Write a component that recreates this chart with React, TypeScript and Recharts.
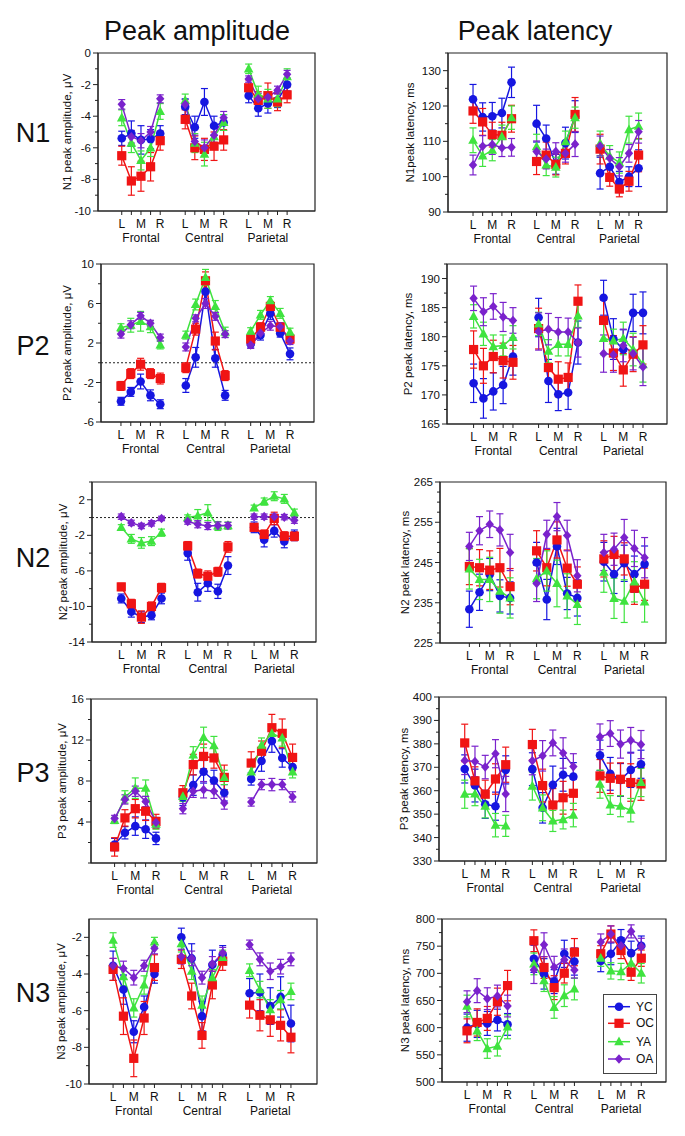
import React from 'react';
import { ComposedChart, Line, XAxis, YAxis, ErrorBar, ReferenceArea, ReferenceLine } from 'recharts';

const groups = ['Frontal', 'Central', 'Parietal'];
const siteLabels = ['L', '', 'M', '', 'R'];
const seriesNames = ['YC', 'OC', 'YA', 'OA'];
const seriesColors = ['#1616e0', '#f01414', '#3fe33f', '#7a22cc'];

// electrodes sit one unit apart, groups are separated by a wider gap
const GROUP_GAP = 6.6;
const xPositions = groups.flatMap((_, g) => siteLabels.map((_, e) => g * GROUP_GAP + e));

// ---- N1 amplitude (µV)
const n1AmpYC = [-5.4, -5.1, -5.5, -5.45, -5.1, -3.4, -4.7, -3.1, -4.6, -4.4, -2.7, -3.5, -3.2, -3.0, -2.0];
const n1AmpOC = [-6.5, -8.1, -7.8, -7.2, -5.55, -4.2, -6.0, -6.1, -5.9, -5.5, -2.2, -3.0, -2.7, -3.1, -2.65];
const n1AmpYA = [-4.1, -5.7, -6.8, -6.0, -3.7, -3.0, -5.7, -6.4, -5.3, -4.4, -1.0, -2.6, -2.9, -2.9, -1.5];
const n1AmpOA = [-3.25, -5.3, -5.55, -5.0, -2.9, -3.25, -5.6, -6.0, -5.2, -4.1, -1.65, -2.9, -2.8, -2.35, -1.35];
const n1AmpYCErr = [0.45, 0.8, 0.9, 0.6, 0.5, 0.5, 0.7, 0.85, 0.6, 0.5, 0.45, 0.5, 0.6, 0.45, 0.4];
const n1AmpOCErr = [0.6, 0.9, 0.95, 0.9, 0.6, 0.6, 0.75, 0.7, 0.9, 0.65, 0.5, 0.55, 0.8, 0.55, 0.5];
const n1AmpYAErr = [0.5, 0.6, 0.6, 0.55, 0.5, 0.4, 0.6, 0.75, 0.6, 0.5, 0.3, 0.5, 0.6, 0.5, 0.5];
const n1AmpOAErr = [0.3, 0.4, 0.45, 0.35, 0.25, 0.3, 0.4, 0.5, 0.45, 0.4, 0.2, 0.35, 0.3, 0.25, 0.25];

// ---- N1 latency (ms)
const n1LatYC = [121.9, 116.9, 117.1, 118.0, 126.7, 115.0, 110.8, 103.5, 109.5, 117.0, 101.0, 102.8, 98.5, 100.0, 102.4];
const n1LatOC = [118.6, 115.5, 111.9, 111.7, 116.4, 104.3, 106.1, 103.5, 106.6, 117.6, 107.8, 99.8, 96.5, 98.7, 106.1];
const n1LatYA = [110.3, 105.9, 107.5, 111.3, 116.7, 108.5, 103.3, 102.7, 109.9, 116.7, 109.4, 105.8, 104.0, 113.3, 114.3];
const n1LatOA = [103.3, 108.6, 109.1, 108.2, 108.3, 107.1, 105.0, 107.1, 106.6, 109.2, 108.7, 105.2, 102.8, 106.6, 112.7];
const n1LatYCErr = [4.2, 4.0, 3.9, 4.2, 4.3, 5.2, 3.8, 2.8, 4.5, 4.5, 4.5, 2.5, 3.0, 2.8, 5.2];
const n1LatOCErr = [3.5, 3.8, 3.5, 3.7, 3.8, 3.7, 3.7, 3.0, 3.0, 4.8, 4.2, 2.5, 2.2, 2.8, 4.7];
const n1LatYAErr = [3.5, 3.0, 3.0, 3.3, 3.3, 3.5, 3.0, 2.8, 3.0, 3.0, 3.5, 3.0, 3.0, 3.8, 3.7];
const n1LatOAErr = [2.8, 3.0, 2.8, 2.5, 2.5, 3.0, 2.8, 2.5, 2.5, 3.5, 2.8, 2.5, 2.6, 2.5, 3.2];

// ---- P2 amplitude (µV)
const p2AmpYC = [-3.9, -2.95, -1.9, -3.3, -4.2, -2.3, 0.55, 7.2, 0.45, -3.3, 1.9, 2.8, 5.0, 3.0, 0.9];
const p2AmpOC = [-2.35, -1.1, -0.15, -1.1, -1.6, -0.5, 3.4, 8.3, 2.2, -1.3, 2.4, 3.6, 5.7, 3.6, 2.4];
const p2AmpYA = [3.55, 3.8, 4.2, 3.65, 1.8, 2.8, 5.9, 8.65, 5.7, 3.1, 3.2, 4.85, 6.3, 5.0, 3.1];
const p2AmpOA = [2.9, 3.85, 4.75, 4.0, 2.55, 1.6, 4.5, 6.0, 4.7, 2.9, 1.8, 3.0, 3.75, 3.65, 2.2];
const p2AmpYCErr = [0.4, 0.45, 0.75, 0.55, 0.45, 0.7, 1.0, 1.2, 0.9, 0.5, 0.4, 0.5, 0.6, 0.4, 0.6];
const p2AmpOCErr = [0.45, 0.5, 0.6, 0.5, 0.55, 0.5, 0.6, 0.9, 0.9, 0.5, 0.4, 0.45, 0.5, 0.45, 0.4];
const p2AmpYAErr = [0.4, 0.7, 1.0, 0.6, 0.4, 0.4, 0.55, 0.8, 0.6, 0.5, 0.35, 0.45, 0.4, 0.5, 0.4];
const p2AmpOAErr = [0.4, 0.4, 0.35, 0.3, 0.35, 0.4, 0.35, 0.5, 0.4, 0.35, 0.35, 0.4, 0.45, 0.4, 0.35];

// ---- P2 latency (ms)
const p2LatYC = [172.0, 169.4, 170.6, 171.7, 176.6, 183.3, 172.4, 170.1, 170.4, 179.0, 186.7, 179.6, 177.8, 184.1, 184.1];
const p2LatOC = [177.8, 175.0, 176.6, 175.9, 175.6, 181.4, 174.7, 172.7, 173.0, 186.1, 182.8, 177.2, 174.3, 177.0, 178.6];
const p2LatYA = [183.5, 180.5, 178.3, 178.5, 179.9, 182.2, 177.5, 178.7, 178.7, 183.6, 179.7, 179.3, 179.7, 177.8, 175.2];
const p2LatOA = [186.6, 184.3, 185.2, 183.4, 182.8, 180.9, 181.3, 180.8, 180.8, 179.0, 177.1, 176.9, 178.5, 177.1, 174.8];
const p2LatYCErr = [3.3, 3.4, 3.2, 3.2, 3.2, 3.3, 3.7, 2.8, 2.9, 3.7, 3.0, 3.5, 3.4, 3.2, 3.6];
const p2LatOCErr = [3.2, 3.0, 2.8, 3.0, 2.9, 3.5, 2.5, 3.0, 2.5, 2.8, 3.5, 3.0, 2.8, 3.0, 3.3];
const p2LatYAErr = [2.0, 2.0, 2.0, 1.8, 2.0, 2.0, 2.0, 2.0, 2.0, 2.0, 2.8, 2.0, 2.8, 2.8, 3.0];
const p2LatOAErr = [2.1, 2.4, 2.2, 2.5, 2.2, 3.2, 2.7, 2.5, 2.4, 2.5, 3.2, 3.0, 2.8, 2.8, 3.2];

// ---- N2 amplitude (µV)
const n2AmpYC = [-9.1, -10.6, -11.2, -11.0, -9.1, -4.0, -8.4, -7.4, -8.3, -5.4, -1.1, -2.5, -1.5, -2.7, -2.0];
const n2AmpOC = [-7.8, -9.7, -11.2, -10.0, -7.9, -3.2, -6.3, -6.6, -6.1, -3.3, -1.1, -1.9, -0.1, -2.1, -2.1];
const n2AmpYA = [-1.1, -2.4, -2.85, -2.65, -1.7, 0.0, 0.2, 0.55, -0.95, -0.9, 1.1, 1.8, 2.4, 2.1, 0.55];
const n2AmpOA = [0.1, -0.6, -0.95, -0.65, -0.1, -0.45, -0.75, -0.95, -0.9, -0.9, 0.1, 0.1, 0.1, 0.05, -0.3];
const n2AmpYCErr = [0.5, 0.6, 0.6, 0.5, 0.6, 0.8, 1.0, 0.9, 0.8, 1.0, 0.6, 0.8, 0.7, 0.7, 0.6];
const n2AmpOCErr = [0.4, 0.5, 0.7, 0.5, 0.5, 0.5, 0.5, 0.6, 0.5, 0.6, 0.4, 0.5, 0.7, 0.5, 0.5];
const n2AmpYAErr = [0.3, 0.5, 0.6, 0.5, 0.4, 0.3, 0.7, 0.9, 0.5, 0.4, 0.3, 0.4, 0.5, 0.5, 0.4];
const n2AmpOAErr = [0.3, 0.3, 0.3, 0.3, 0.25, 0.3, 0.4, 0.4, 0.4, 0.35, 0.3, 0.3, 0.3, 0.3, 0.35];

// ---- N2 latency (ms)
const n2LatYC = [233.4, 237.6, 242.0, 236.7, 236.2, 245.0, 235.8, 249.0, 237.3, 236.2, 245.2, 242.1, 244.8, 242.1, 244.6];
const n2LatOC = [244.0, 243.7, 243.1, 243.7, 239.0, 247.9, 243.7, 250.6, 243.6, 239.6, 245.9, 247.0, 245.9, 238.6, 239.6];
const n2LatYA = [243.4, 240.8, 240.8, 237.9, 236.2, 241.0, 242.9, 239.8, 236.7, 234.6, 242.6, 236.1, 235.4, 240.2, 235.2];
const n2LatOA = [249.0, 252.9, 254.5, 253.1, 247.5, 239.8, 252.0, 256.4, 251.7, 241.7, 247.5, 248.3, 251.2, 248.5, 246.2];
const n2LatYCErr = [4.5, 4.5, 4.0, 4.0, 4.0, 5.0, 5.0, 4.5, 4.0, 4.5, 4.8, 4.8, 4.5, 4.5, 4.5];
const n2LatOCErr = [4.5, 4.5, 4.8, 4.8, 4.5, 5.0, 4.5, 4.5, 4.5, 4.3, 4.5, 4.5, 4.0, 4.0, 4.0];
const n2LatYAErr = [5.0, 5.0, 5.5, 5.5, 5.0, 5.0, 5.0, 5.8, 5.5, 5.0, 5.0, 5.0, 5.3, 5.0, 5.0];
const n2LatOAErr = [3.5, 3.5, 3.3, 4.0, 4.5, 4.5, 3.5, 3.5, 3.8, 4.0, 4.5, 4.0, 4.5, 4.5, 5.0];

// ---- P3 amplitude (µV)
const p3AmpYC = [1.8, 2.95, 3.6, 3.3, 2.4, 6.4, 7.6, 8.9, 8.05, 6.85, 8.2, 9.95, 11.9, 10.25, 9.35];
const p3AmpOC = [1.57, 4.4, 5.3, 5.05, 4.05, 6.85, 9.6, 10.4, 10.25, 8.35, 9.75, 10.9, 13.2, 12.65, 10.3];
const p3AmpYA = [4.15, 6.45, 7.3, 7.3, 3.8, 6.5, 10.55, 12.25, 11.45, 8.35, 8.9, 11.5, 12.65, 12.2, 8.9];
const p3AmpOA = [4.35, 6.2, 7.0, 6.0, 3.95, 5.3, 7.0, 7.15, 7.0, 5.85, 5.95, 7.65, 7.65, 7.65, 6.45];
const p3AmpYCErr = [0.6, 0.6, 0.9, 0.9, 0.6, 0.8, 1.0, 1.1, 1.0, 0.8, 0.6, 1.0, 1.1, 0.9, 0.7];
const p3AmpOCErr = [0.9, 0.8, 0.9, 0.9, 0.7, 0.7, 1.0, 1.2, 1.0, 1.2, 1.1, 1.0, 1.3, 1.4, 1.3];
const p3AmpYAErr = [0.3, 0.6, 1.0, 0.8, 0.5, 0.5, 0.8, 1.0, 0.9, 0.7, 0.5, 0.7, 0.8, 0.8, 0.6];
const p3AmpOAErr = [0.3, 0.45, 0.5, 0.5, 0.5, 0.5, 0.6, 0.8, 0.7, 0.6, 0.4, 0.5, 0.6, 0.5, 0.5];

// ---- P3 latency (ms)
const p3LatYC = [369.3, 362.2, 354.2, 353.4, 368.9, 369.2, 352.7, 362.5, 366.8, 366.0, 375.1, 367.2, 364.6, 368.9, 371.3];
const p3LatOC = [380.4, 364.2, 358.5, 365.0, 371.1, 379.7, 362.2, 353.9, 357.0, 358.9, 366.3, 365.3, 364.9, 363.5, 362.9];
const p3LatYA = [358.5, 358.6, 353.4, 345.3, 345.0, 362.0, 352.7, 347.1, 347.7, 349.6, 362.8, 353.9, 353.4, 351.7, 363.5];
const p3LatOA = [372.9, 372.5, 370.1, 375.8, 358.6, 372.8, 374.9, 380.4, 376.1, 370.3, 383.0, 384.4, 379.9, 381.5, 379.7];
const p3LatYCErr = [6, 7, 6, 6, 6, 7, 6.5, 8, 7, 6, 6.5, 7, 7, 7.5, 6];
const p3LatOCErr = [8, 6, 6, 6.5, 7.5, 6.5, 7, 7, 7, 7, 7, 6.5, 7, 8, 7];
const p3LatYAErr = [6, 5, 5, 5, 4.5, 6, 5.5, 4.5, 4, 5, 6, 4, 4.5, 5, 6];
const p3LatOAErr = [6, 6.5, 5, 6, 7.5, 6, 6.5, 5.5, 6.5, 5.5, 5.5, 5.5, 6, 5.5, 6];

// ---- N3 amplitude (µV)
const n3AmpYC = [-3.55, -4.85, -7.15, -5.8, -4.0, -2.0, -3.15, -6.3, -3.5, -2.95, -5.05, -5.0, -5.75, -5.25, -6.7];
const n3AmpOC = [-3.75, -6.3, -8.6, -6.4, -3.65, -3.2, -5.2, -7.35, -4.6, -3.3, -5.7, -6.25, -6.5, -6.8, -7.45];
const n3AmpYA = [-2.15, -4.15, -5.85, -4.6, -2.25, -2.35, -3.85, -5.7, -4.2, -3.1, -3.8, -4.85, -5.95, -5.4, -4.95];
const n3AmpOA = [-3.55, -3.7, -4.2, -3.55, -2.6, -3.05, -3.15, -4.2, -3.45, -2.85, -2.4, -3.2, -3.85, -3.6, -3.2];
const n3AmpYCErr = [0.8, 0.8, 0.6, 0.6, 0.5, 0.5, 0.8, 0.8, 0.8, 0.5, 0.8, 1.0, 1.0, 1.1, 1.0];
const n3AmpOCErr = [0.6, 1.0, 1.0, 0.9, 0.7, 0.5, 0.7, 0.7, 0.75, 0.5, 0.7, 0.85, 0.9, 0.85, 0.85];
const n3AmpYAErr = [0.4, 0.5, 0.5, 0.5, 0.25, 0.45, 0.45, 0.5, 0.45, 0.4, 0.35, 0.45, 0.55, 0.5, 0.45];
const n3AmpOAErr = [0.4, 0.4, 0.4, 0.3, 0.3, 0.4, 0.4, 0.35, 0.4, 0.3, 0.25, 0.35, 0.45, 0.4, 0.35];

// ---- N3 latency (ms)
const n3LatYC = [600, 607, 607.8, 614, 606, 726.7, 699, 684.8, 735.9, 721.7, 723, 735.9, 760.6, 737.2, 750.7];
const n3LatOC = [594.2, 609.6, 617, 647.8, 677.4, 760, 710.7, 673.7, 700.2, 739, 735.9, 772.3, 742.1, 702, 727.9];
const n3LatYA = [639.8, 594.2, 561.6, 565.9, 601.6, 717.4, 686.6, 637.3, 658.9, 671.2, 727.9, 704.5, 703.3, 718.7, 700.2];
const n3LatOA = [647.8, 668.1, 653.4, 658.3, 639.8, 706.3, 752.6, 711.3, 724.8, 706.3, 757.5, 772.3, 750.7, 777.2, 749.5];
const n3LatYCErr = [25, 25, 22, 20, 20, 25, 28, 22, 25, 25, 20, 20, 20, 22, 18];
const n3LatOCErr = [22, 25, 22, 25, 28, 20, 20, 22, 18, 25, 15, 15, 15, 15, 15];
const n3LatYAErr = [20, 18, 18, 18, 22, 20, 20, 20, 20, 20, 15, 15, 15, 15, 18];
const n3LatOAErr = [20, 22, 20, 20, 20, 25, 22, 20, 20, 15, 15, 15, 15, 12, 15];

type PanelSpec = {
  box: [number, number, number, number];
  xDomain: [number, number];
  yDomain: [number, number];
  major: number[];
  minor: number[];
  zeroLine?: boolean;
  title: string;
  titleX: number;
  series: number[][];
  errs: number[][];
};

const panels: PanelSpec[] = [
  {
    box: [98, 53, 315, 211], xDomain: [-2.47, 20.1], yDomain: [-10, 0],
    major: [-10, -8, -6, -4, -2, 0], minor: [-9, -7, -5, -3, -1],
    title: 'N1 peak amplitude, μV', titleX: 67,
    series: [n1AmpYC, n1AmpOC, n1AmpYA, n1AmpOA], errs: [n1AmpYCErr, n1AmpOCErr, n1AmpYAErr, n1AmpOAErr],
  },
  {
    box: [448, 53, 667, 212], xDomain: [-2.6, 20.15], yDomain: [90, 135],
    major: [90, 100, 110, 120, 130], minor: [95, 105, 115, 125, 135],
    title: 'N1peak latency, ms', titleX: 410,
    series: [n1LatYC, n1LatOC, n1LatYA, n1LatOA], errs: [n1LatYCErr, n1LatOCErr, n1LatYAErr, n1LatOAErr],
  },
  {
    box: [101, 264, 314, 422], xDomain: [-2.03, 19.64], yDomain: [-6, 10],
    major: [-6, -2, 2, 6, 10], minor: [-4, 0, 4, 8], zeroLine: true,
    title: 'P2 peak amplitude, μV', titleX: 67,
    series: [p2AmpYC, p2AmpOC, p2AmpYA, p2AmpOA], errs: [p2AmpYCErr, p2AmpOCErr, p2AmpYAErr, p2AmpOAErr],
  },
  {
    box: [447, 264, 667, 424], xDomain: [-2.7, 19.64], yDomain: [165, 192.5],
    major: [165, 170, 175, 180, 185, 190], minor: [167.5, 172.5, 177.5, 182.5, 187.5, 192.5],
    title: 'P2 peak latency, ms', titleX: 408,
    series: [p2LatYC, p2LatOC, p2LatYA, p2LatOA], errs: [p2LatYCErr, p2LatOCErr, p2LatYAErr, p2LatOAErr],
  },
  {
    box: [92, 482, 316, 642], xDomain: [-2.91, 19.35], yDomain: [-14, 4],
    major: [-14, -10, -6, -2, 2], minor: [-12, -8, -4, 0, 4], zeroLine: true,
    title: 'N2 peak amplitude, μV', titleX: 63,
    series: [n2AmpYC, n2AmpOC, n2AmpYA, n2AmpOA], errs: [n2AmpYCErr, n2AmpOCErr, n2AmpYAErr, n2AmpOAErr],
  },
  {
    box: [440, 482, 666, 643], xDomain: [-2.88, 19.3], yDomain: [225, 265],
    major: [225, 235, 245, 255, 265],
    minor: [227.5, 230, 232.5, 237.5, 240, 242.5, 247.5, 250, 252.5, 257.5, 260, 262.5],
    title: 'N2 peak latency, ms', titleX: 405,
    series: [n2LatYC, n2LatOC, n2LatYA, n2LatOA], errs: [n2LatYCErr, n2LatOCErr, n2LatYAErr, n2LatOAErr],
  },
  {
    box: [91, 699, 317, 863], xDomain: [-2.28, 19.56], yDomain: [0, 16],
    major: [4, 8, 12, 16], minor: [0, 2, 6, 10, 14],
    title: 'P3 peak amplitude, μV', titleX: 62,
    series: [p3AmpYC, p3AmpOC, p3AmpYA, p3AmpOA], errs: [p3AmpYCErr, p3AmpOCErr, p3AmpYAErr, p3AmpOAErr],
  },
  {
    box: [439, 697, 666, 861], xDomain: [-2.51, 19.64], yDomain: [330, 400],
    major: [330, 340, 350, 360, 370, 380, 390, 400], minor: [335, 345, 355, 365, 375, 385, 395],
    title: 'P3 peak latency, ms', titleX: 404,
    series: [p3LatYC, p3LatOC, p3LatYA, p3LatOA], errs: [p3LatYCErr, p3LatOCErr, p3LatYAErr, p3LatOAErr],
  },
  {
    box: [89, 919, 317, 1084], xDomain: [-2.33, 19.72], yDomain: [-10, -1],
    major: [-10, -8, -6, -4, -2], minor: [-9, -7, -5, -3],
    title: 'N3 peak amplitude, μV', titleX: 61,
    series: [n3AmpYC, n3AmpOC, n3AmpYA, n3AmpOA], errs: [n3AmpYCErr, n3AmpOCErr, n3AmpYAErr, n3AmpOAErr],
  },
  {
    box: [442, 919, 666, 1082], xDomain: [-2.47, 19.64], yDomain: [500, 800],
    major: [500, 550, 600, 650, 700, 750, 800], minor: [525, 575, 625, 675, 725, 775],
    title: 'N3 peak latency, ms', titleX: 405,
    series: [n3LatYC, n3LatOC, n3LatYA, n3LatOA], errs: [n3LatYCErr, n3LatOCErr, n3LatYAErr, n3LatOAErr],
  },
];

const rowLabels = ['N1', 'P2', 'N2', 'P3', 'N3'];
const rowLabelY = [142, 355, 567, 782, 1002];

function Marker({ kind, cx, cy, color }: { kind: number; cx?: number; cy?: number; color: string }) {
  if (cx == null || cy == null) return null;
  if (kind === 0) return <circle cx={cx} cy={cy} r={4.3} fill={color} />;
  if (kind === 1) return <rect x={cx - 4.6} y={cy - 4.6} width={9.2} height={9.2} fill={color} />;
  if (kind === 2)
    return <polygon points={`${cx},${cy - 5.2} ${cx + 4.8},${cy + 3.6} ${cx - 4.8},${cy + 3.6}`} fill={color} />;
  return <polygon points={`${cx},${cy - 4.8} ${cx + 4.2},${cy} ${cx},${cy + 4.8} ${cx - 4.2},${cy}`} fill={color} />;
}

function XTick(props: any) {
  const { x, y, payload } = props;
  const idx = xPositions.findIndex((p) => Math.abs(p - payload.value) < 1e-6);
  if (idx < 0) return null;
  const e = idx % 5;
  const g = Math.floor(idx / 5);
  return (
    <g>
      <line x1={x} x2={x} y1={y} y2={y + 4} stroke="#222" />
      {siteLabels[e] && (
        <text x={x} y={y + 17} textAnchor="middle" fontSize={12} fill="#111">{siteLabels[e]}</text>
      )}
      {e === 2 && (
        <text x={x} y={y + 31} textAnchor="middle" fontSize={12} fill="#111">{groups[g]}</text>
      )}
    </g>
  );
}

function YTick(props: any) {
  const { x, y, payload, major } = props;
  const isMajor = major.includes(payload.value);
  return (
    <g>
      <line x1={x} x2={x - (isMajor ? 5 : 3)} y1={y} y2={y} stroke="#222" />
      {isMajor && (
        <text x={x - 7} y={y} dy={4} textAnchor="end" fontSize={11.5} fill="#111">{payload.value}</text>
      )}
    </g>
  );
}

function Panel({ spec }: { spec: PanelSpec }) {
  const [l, t, r, b] = spec.box;
  const ML = 70, MT = 10, MR = 10, MB = 42;
  const w = r - l;
  const h = b - t;
  const yTicks = [...spec.major, ...spec.minor].sort((p, q) => p - q);
  return (
    <div style={{ position: 'absolute', left: l - ML, top: t - MT }}>
      <ComposedChart width={w + ML + MR} height={h + MT + MB} margin={{ top: MT, right: MR, bottom: 0, left: 0 }}>
        <XAxis
          type="number" dataKey="x" domain={spec.xDomain} ticks={xPositions} interval={0}
          allowDataOverflow height={MB} tickLine={false} tickSize={0} tickMargin={0}
          axisLine={{ stroke: '#222' }} tick={(p: any) => <XTick {...p} />}
        />
        <YAxis
          type="number" domain={spec.yDomain} ticks={yTicks} interval={0} allowDataOverflow
          width={ML} tickLine={false} tickSize={0} tickMargin={0} axisLine={{ stroke: '#222' }}
          tick={(p: any) => <YTick {...p} major={spec.major} />}
        />
        <ReferenceArea
          x1={spec.xDomain[0]} x2={spec.xDomain[1]} y1={spec.yDomain[0]} y2={spec.yDomain[1]}
          fill="none" stroke="#222" strokeWidth={1.2}
        />
        {spec.zeroLine && <ReferenceLine y={0} stroke="#222" strokeDasharray="2 2" />}
        {spec.series.map((vals, s) =>
          groups.map((_, g) => {
            const rows = siteLabels.map((_, e) => ({
              x: xPositions[g * 5 + e],
              v: vals[g * 5 + e],
              err: spec.errs[s][g * 5 + e],
            }));
            return (
              <Line
                key={`${s}-${g}`} data={rows} dataKey="v" type="linear" stroke={seriesColors[s]}
                strokeWidth={1.5} isAnimationActive={false} activeDot={false} legendType="none"
                dot={(p: any) => (
                  <Marker key={`m${s}-${g}-${p.index}`} kind={s} cx={p.cx} cy={p.cy} color={seriesColors[s]} />
                )}
              >
                <ErrorBar dataKey="err" width={3.5} stroke={seriesColors[s]} strokeWidth={1.2} direction="y" />
              </Line>
            );
          })
        )}
      </ComposedChart>
    </div>
  );
}

function LegendBox() {
  const rowY = [12.7, 29.3, 47.7, 65];
  return (
    <svg width={54} height={80} style={{ position: 'absolute', left: 603, top: 994 }}>
      <rect x={0.5} y={0.5} width={53} height={79} fill="#fff" stroke="#444" />
      {seriesNames.map((n, i) => (
        <g key={n}>
          <line x1={5} x2={27} y1={rowY[i]} y2={rowY[i]} stroke={seriesColors[i]} strokeWidth={1.5} />
          <Marker kind={i} cx={16} cy={rowY[i]} color={seriesColors[i]} />
          <text x={33} y={rowY[i] + 4} fontSize={12} fill="#111">{n}</text>
        </g>
      ))}
    </svg>
  );
}

export default function App() {
  return (
    <div
      style={{
        position: 'absolute', left: 0, top: 0, width: 685, height: 1136, background: '#fff',
        fontFamily: '"Liberation Sans", Arial, sans-serif',
      }}
    >
      {panels.map((p, i) => (
        <Panel key={i} spec={p} />
      ))}
      <LegendBox />
      <svg width={685} height={1136} style={{ position: 'absolute', left: 0, top: 0, pointerEvents: 'none' }}>
        <text x={197} y={40} textAnchor="middle" fontSize={27} fill="#111">Peak amplitude</text>
        <text x={535} y={40} textAnchor="middle" fontSize={27} fill="#111">Peak latency</text>
        {rowLabels.map((lab, i) => (
          <text key={lab} x={33} y={rowLabelY[i]} textAnchor="middle" fontSize={27} fill="#111">{lab}</text>
        ))}
        {panels.map((p, i) => {
          const cy = (p.box[1] + p.box[3]) / 2;
          return (
            <text key={i} transform={`translate(${p.titleX + 4},${cy}) rotate(-90)`} textAnchor="middle" fontSize={11.5} fill="#111">
              {p.title}
            </text>
          );
        })}
      </svg>
    </div>
  );
}
